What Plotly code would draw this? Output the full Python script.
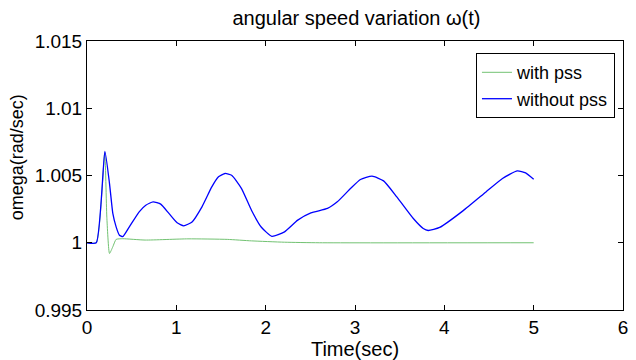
import plotly.graph_objects as go

# Time (s) and angular speed (rad/s)
t_without = [0.0, 0.104, 0.200, 0.252, 0.289, 0.326, 0.363, 0.40, 0.474, 0.584, 0.658, 0.740,
             0.825, 0.917, 1.009, 1.083, 1.176, 1.287, 1.397, 1.472, 1.546, 1.619, 1.730,
             1.841, 1.952, 2.07, 2.211, 2.359, 2.506, 2.692, 2.802, 2.950, 3.061, 3.191,
             3.320, 3.468, 3.653, 3.764, 3.819, 3.948, 4.208, 4.466, 4.651, 4.817, 4.910, 5.0]
w_without = [1.0, 1.0, 1.0068, 1.0044, 1.00218, 1.00118, 1.00056, 1.00045, 1.00118, 1.0023,
             1.00279, 1.00304, 1.00287, 1.00218, 1.00148, 1.00126, 1.00155, 1.00267, 1.00415,
             1.0049, 1.00515, 1.00502, 1.00403, 1.00242, 1.00115, 1.00048, 1.00081, 1.00168,
             1.00222, 1.00255, 1.00304, 1.00403, 1.0047, 1.00495, 1.0046, 1.00341, 1.0018,
             1.00106, 1.00091, 1.00114, 1.00237, 1.00378, 1.00478, 1.00534, 1.00519, 1.00472]

t_with = [0.0, 0.104, 0.198, 0.222, 0.252, 0.289, 0.326, 0.40, 0.65, 1.13, 1.57, 1.84, 2.21,
          2.6, 5.0]
w_with = [1.0, 1.0, 1.0067, 1.0019, 0.9992, 0.9997, 1.00025, 1.0003, 1.0002, 1.00029, 1.00025,
          1.00014, 1.00004, 1.0, 1.0]

x_ticks = [0, 1, 2, 3, 4, 5, 6]
y_ticks = [0.995, 1.0, 1.005, 1.01, 1.015]
y_tick_text = ["0.995", "1", "1.005", "1.01", "1.015"]

FONT = "Liberation Sans, Arial, sans-serif"

fig = go.Figure()
fig.add_trace(go.Scatter(x=t_with, y=w_with, mode="lines", name="with pss",
                         line=dict(color="#72c272", width=1, shape="spline", smoothing=0.5)))
fig.add_trace(go.Scatter(x=t_without, y=w_without, mode="lines", name="without pss",
                         line=dict(color="#0000ff", width=1.3, shape="spline", smoothing=0.5)))

axis_common = dict(showline=True, linecolor="black", linewidth=1, mirror="ticks",
                   ticks="inside", ticklen=5, tickcolor="black", showgrid=False,
                   zeroline=False, tickfont=dict(family=FONT, size=19, color="black"))

fig.update_layout(
    width=636, height=360,
    margin=dict(l=87, r=8, t=41, b=50),
    paper_bgcolor="white", plot_bgcolor="white",
    font=dict(family=FONT, color="black"),
    title=dict(text="angular speed variation ω(t)", x=0.5605, xanchor="center",
               y=0.95, yanchor="middle", font=dict(family=FONT, size=20, color="black")),
    xaxis=dict(range=[0, 6], tickvals=x_ticks, ticktext=[str(v) for v in x_ticks],
               title=dict(text="Time(sec)", font=dict(family=FONT, size=20), standoff=0),
               **axis_common),
    yaxis=dict(range=[0.995, 1.015], tickvals=y_ticks, ticktext=y_tick_text,
               **axis_common),
    annotations=[dict(text="omega(rad/sec)", textangle=-90, xref="paper", yref="paper",
                      x=0, y=0.568, xshift=-70, xanchor="center", yanchor="middle",
                      showarrow=False, font=dict(family=FONT, size=18, color="black"))],
    legend=dict(x=0.985, y=0.955, xanchor="right", yanchor="top",
                bgcolor="white", bordercolor="black", borderwidth=1,
                font=dict(family=FONT, size=18, color="black"),
                itemwidth=30, tracegroupgap=0),
    showlegend=True,
)

fig.write_html("out.html")
